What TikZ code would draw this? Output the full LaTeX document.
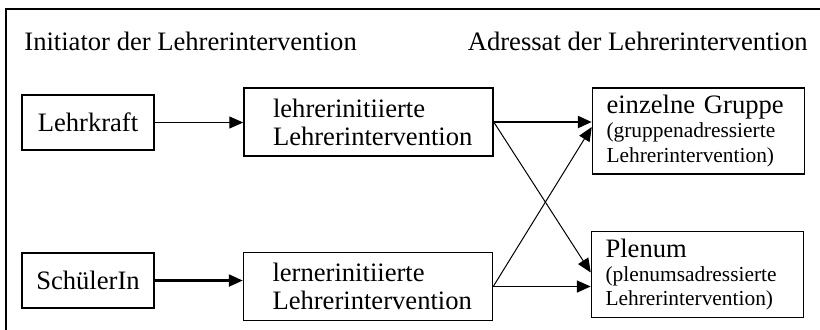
\documentclass[tikz,border=0pt]{standalone}
\usepackage{fontspec}
\setmainfont{Liberation Serif}
\usetikzlibrary{arrows.meta}
\newcommand{\klein}{\fontsize{10.7}{12.2}\selectfont}

\begin{document}
\begin{tikzpicture}[x=0.5pt, y=-0.5pt,
    box/.style={draw, line width=0.75pt, inner sep=0pt, font=\fontsize{13.3}{14}\selectfont},
    srcbox/.style={box, minimum width=66pt, minimum height=27.5pt},
    midbox/.style={box, text width=95.5pt, inner xsep=14.5pt, align=left, minimum height=34pt},
    dstbox/.style={box, text width=92pt, inner xsep=7pt, align=left, minimum height=43pt,
        font=\fontsize{13.3}{12.2}\selectfont},
    heading/.style={inner sep=0pt, font=\fontsize{13.3}{14}\selectfont},
    pfeil/.style={-{Triangle[length=7pt, width=6pt]}, line width=0.6pt}]
    \clip (0,0) rectangle (820,329);
    % outer frame, cut at the right and bottom edges
    \draw[line width=0.75pt] (6,9) rectangle (840,350);
    % column headings
    \node[heading, anchor=base west] (initiator) at (24,50) {Initiator der Lehrerintervention};
    \node[heading, anchor=base east] (adressat) at (808,50) {Adressat der Lehrerintervention};
    % initiators
    \node[srcbox] (lehrkraft) at (88,122.5) {Lehrkraft};
    \node[srcbox] (schueler) at (88,280.5) {SchülerIn};
    % kinds of intervention
    \node[midbox] (lehrerinit) at (368.5,122) {lehrerinitiierte\\Lehrerintervention};
    \node[midbox] (lernerinit) at (368,286.5) {lernerinitiierte\\Lehrerintervention};
    % addressees
    \node[dstbox] (gruppe) at (698.5,131) {einzelne Gruppe\\{\klein (gruppenadressierte}\\{\klein Lehrerintervention)}};
    \node[dstbox] (plenum) at (697.5,274.5) {Plenum\\{\klein (plenumsadressierte}\\{\klein Lehrerintervention)}};
    % connectors
    \draw[pfeil] (lehrkraft.east) -- (lehrkraft.east -| lehrerinit.west);
    \draw[pfeil, line width=1.2pt] (schueler.east) -- (schueler.east -| lernerinit.west);
    \draw[pfeil, line width=1.2pt] (lehrerinit.east) -- (lehrerinit.east -| gruppe.west);
    \draw[pfeil, line width=0.5pt] (lehrerinit.east) -- ([yshift=1pt]plenum.west);
    \draw[pfeil, line width=0.5pt] (lernerinit.east) -- ([yshift=2pt]gruppe.west);
    \draw[pfeil, line width=0.8pt] (lernerinit.east) -- (lernerinit.east -| plenum.west);
\end{tikzpicture}
\end{document}
